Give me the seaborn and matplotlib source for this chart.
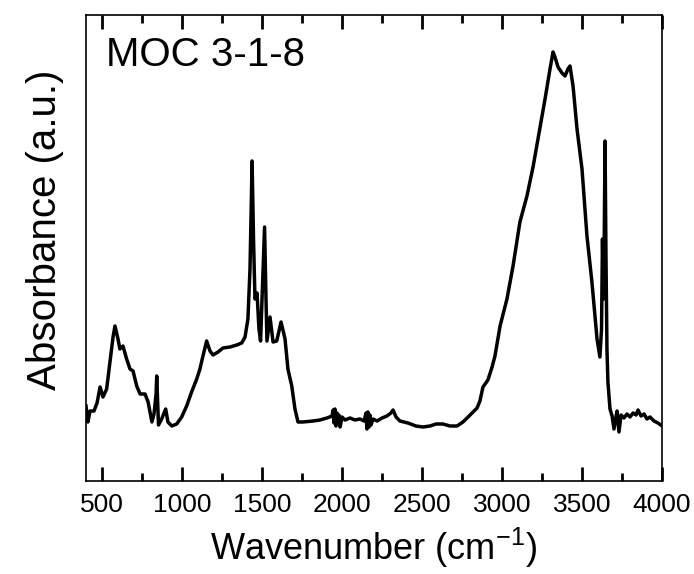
import matplotlib
matplotlib.use('agg')
from matplotlib import pyplot as plt
from matplotlib.ticker import MultipleLocator
import seaborn as sns
import pandas as pd

# FTIR spectrum of MOC 3-1-8
wavenumber = [
    400, 412, 425, 450, 469, 488, 506, 529, 550, 569, 581, 600, 612, 631, 654, 675,
    694, 717, 738, 769, 788, 800, 812, 825, 838, 842, 847, 853, 873, 898, 912, 936,
    967, 998, 1029, 1060, 1092, 1112, 1131, 1154, 1175, 1194, 1225, 1256, 1300, 1342,
    1373, 1394, 1412, 1425, 1438, 1447, 1456, 1469, 1481, 1491, 1500, 1516, 1525, 1531,
    1550, 1569, 1592, 1619, 1644, 1662, 1686, 1706, 1725, 1756, 1819, 1862, 1906, 1938,
    1944, 1950, 1956, 1962, 1969, 1975, 1981, 1988, 2000, 2019, 2050, 2081, 2112, 2138,
    2150, 2156, 2162, 2169, 2175, 2181, 2194, 2219, 2250, 2281, 2306, 2319, 2338, 2362,
    2412, 2462, 2506, 2550, 2588, 2631, 2675, 2719, 2756, 2788, 2819, 2844, 2862, 2881,
    2912, 2938, 2956, 2988, 3012, 3031, 3069, 3112, 3156, 3194, 3225, 3269, 3300, 3319,
    3331, 3350, 3375, 3394, 3412, 3425, 3444, 3469, 3500, 3531, 3562, 3594, 3606, 3612,
    3622, 3628, 3634, 3638, 3644, 3650, 3656, 3662, 3675, 3688, 3700, 3712, 3719, 3731,
    3744, 3762, 3781, 3800, 3819, 3838, 3850, 3869, 3888, 3906, 3925, 3950, 3975, 4000,
]
absorbance = [
    0.75, 0.59, 0.70, 0.70, 0.78, 0.94, 0.84, 0.92, 1.19, 1.44, 1.55, 1.42, 1.32, 1.35, 1.22, 1.12,
    1.10, 0.95, 0.87, 0.87, 0.79, 0.69, 0.59, 0.67, 0.87, 1.05, 0.82, 0.56, 0.62, 0.72, 0.59, 0.55,
    0.57, 0.64, 0.75, 0.89, 1.02, 1.12, 1.25, 1.40, 1.30, 1.26, 1.29, 1.33, 1.34, 1.36,
    1.38, 1.44, 1.62, 2.12, 3.20, 2.42, 1.82, 1.88, 1.52, 1.40, 1.82, 2.54, 1.82, 1.40,
    1.64, 1.39, 1.40, 1.59, 1.42, 1.12, 0.95, 0.72, 0.59, 0.59, 0.60, 0.61, 0.63, 0.65,
    0.71, 0.58, 0.72, 0.55, 0.68, 0.57, 0.66, 0.54, 0.64, 0.61, 0.63, 0.61, 0.62, 0.60,
    0.68, 0.52, 0.69, 0.54, 0.66, 0.56, 0.62, 0.60, 0.63, 0.65, 0.68, 0.71, 0.64, 0.60,
    0.58, 0.55, 0.54, 0.55, 0.57, 0.57, 0.55, 0.55, 0.59, 0.64, 0.69, 0.73, 0.80, 0.94,
    1.01, 1.14, 1.25, 1.55, 1.70, 1.82, 2.15, 2.59, 2.85, 3.14, 3.42, 3.82, 4.12, 4.29,
    4.24, 4.14, 4.08, 4.05, 4.12, 4.15, 3.95, 3.52, 3.12, 2.45, 1.99, 1.42, 1.30, 1.24,
    1.52, 2.42, 1.82, 2.22, 3.40, 2.22, 1.32, 0.99, 0.72, 0.65, 0.52, 0.64, 0.70, 0.49,
    0.66, 0.63, 0.67, 0.64, 0.68, 0.66, 0.71, 0.65, 0.67, 0.62, 0.64, 0.60, 0.58, 0.55,
]

df = pd.DataFrame({"wavenumber": wavenumber, "absorbance": absorbance})

plt.rcParams['font.family'] = ['Liberation Sans', 'DejaVu Sans']
plt.rcParams['axes.linewidth'] = 1.2

fig = plt.figure(figsize=(6.94, 5.74), dpi=100)
ax = fig.add_axes([86 / 694, 1 - 481 / 574, 576 / 694, 466 / 574])

sns.lineplot(data=df, x="wavenumber", y="absorbance", color="black", linewidth=2.5,
             sort=False, estimator=None, ax=ax)

ax.set_xlim(400, 4000)
ax.set_ylim(0, 4.66)
ax.set_yticks([])
ax.xaxis.set_major_locator(MultipleLocator(500))
ax.xaxis.set_minor_locator(MultipleLocator(250))

ax.set_xlabel("Wavenumber (cm$^\\mathregular{-1}$)", fontsize=26, labelpad=6)
ax.set_ylabel("Absorbance (a.u.)", fontsize=29)
ax.yaxis.set_label_coords(-0.038, 0.54)
ax.text(0.035, 0.955, "MOC 3-1-8", transform=ax.transAxes, fontsize=29,
        va="top", ha="left")

ax.tick_params(axis="x", which="major", length=10, width=2, color="black",
               direction="in", top=True, bottom=True, labelsize=19, pad=9)
ax.tick_params(axis="x", which="minor", length=6, width=2, color="black",
               direction="in", top=True, bottom=True)

plt.savefig("out.png", dpi=100)
